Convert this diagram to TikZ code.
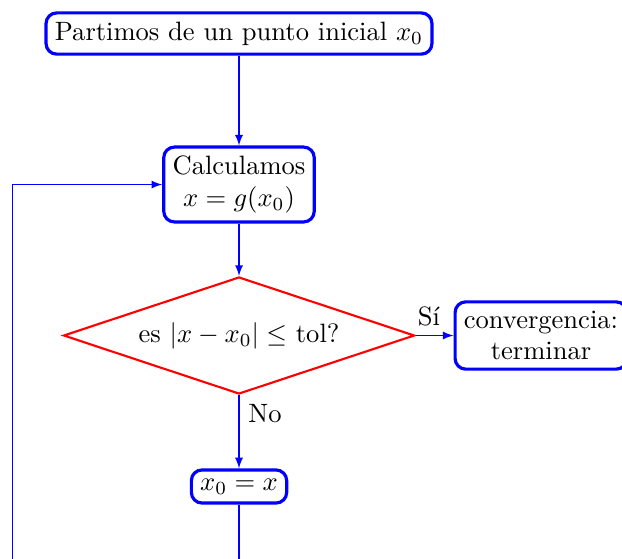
\documentclass[tikz,border=0pt]{standalone}
\usepackage{amsmath,amssymb}
\usetikzlibrary{shapes.geometric,positioning}

\tikzset{
  caja/.style={rectangle, draw=blue, very thick, rounded corners, align=center},
  decision/.style={diamond, draw=red, thick, aspect=3, align=center},
  linea/.style={draw=blue, -latex}
}

\begin{document}
\begin{tikzpicture}[node distance=2cm, on grid]
    \useasboundingbox (-3.166,-6.960) rectangle (5.073,0.444);
    \node[caja] (inicio) at (0,0) {Partimos de un punto inicial $x_0$};
    \node[caja, below=of inicio] (calculo) {Calculamos\\ $x=g(x_0)$};
    \node[decision, below=of calculo] (test) {es $|x-x_0|\le$ tol?};
    \node[caja, right=4cm of test] (fin) {convergencia:\\ terminar};
    \node[caja, below=of test] (actualiza) {$x_0=x$};
    \coordinate (esquina) at (-3,-7.5);
    % conectores
    \draw[linea] (inicio) -- (calculo);
    \draw[linea] (calculo) -- (test);
    \draw[linea] (test) -- node[pos=0.35, above] {Sí} (fin);
    \draw[linea] (test) -- node[near start, right] {No} (actualiza);
    \draw[linea] (actualiza) |- (esquina) |- (calculo);
  \end{tikzpicture}
\end{document}
